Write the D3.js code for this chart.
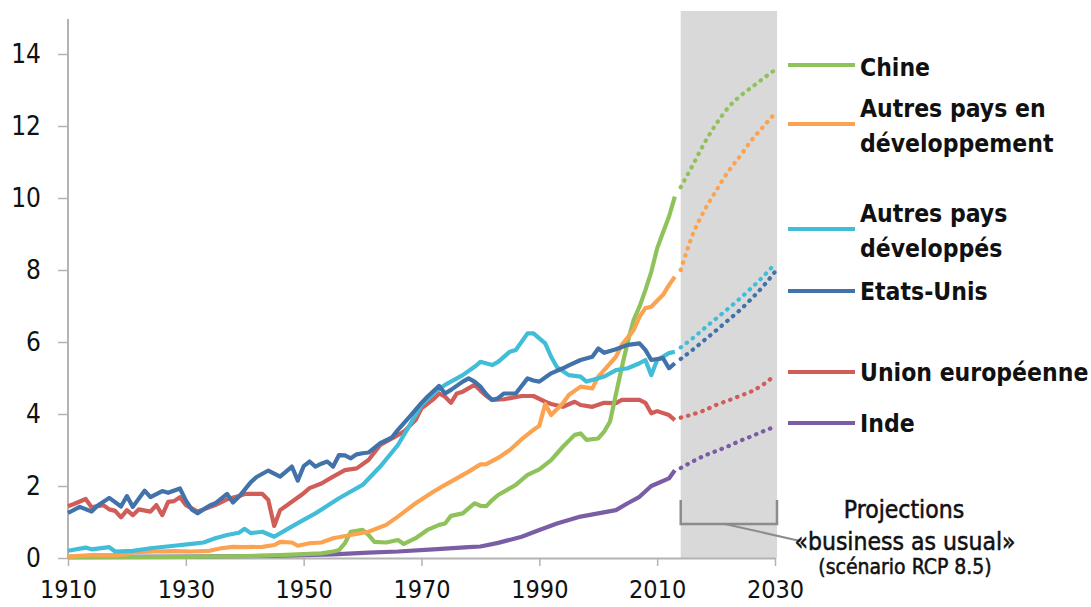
<!DOCTYPE html>
<html>
<head>
<meta charset="utf-8">
<script src="https://cdn.jsdelivr.net/npm/d3@7"></script>
<style>
  body { margin: 0; background: #fff; }
  svg { display: block; }
  .tick-label { font-family: "DejaVu Sans Condensed", "DejaVu Sans", sans-serif; font-size: 26px; fill: #111; }
  .legend-label { font-family: "DejaVu Sans Condensed", "DejaVu Sans", sans-serif; font-weight: bold; font-size: 24.5px; fill: #111; }
  .proj-label { font-family: "DejaVu Sans Condensed", "DejaVu Sans", sans-serif; font-size: 24.5px; fill: #111; stroke: #111; stroke-width: 0.5px; }
</style>
</head>
<body>
<svg id="chart"></svg>
<script>
// tonnes de CO2 par habitant, [année, valeur]
var chine = [[1910,0.02],[1930,0.03],[1940,0.05],[1946,0.08],[1950,0.11],[1953,0.13],[1955,0.18],[1956,0.22],[1957,0.41],[1958,0.73],[1960,0.78],[1961,0.64],[1962,0.45],[1964,0.43],[1966,0.5],[1967,0.39],[1969,0.55],[1971,0.78],[1973,0.92],[1974,0.96],[1975,1.17],[1977,1.24],[1979,1.52],[1980,1.45],[1981,1.44],[1982,1.61],[1983,1.75],[1986,2.03],[1988,2.31],[1990,2.46],[1992,2.72],[1994,3.09],[1996,3.42],[1997,3.46],[1998,3.28],[2000,3.32],[2001,3.51],[2002,3.79],[2003,4.55],[2004,5.3],[2005,6.0],[2006,6.61],[2007,6.98],[2008,7.44],[2009,7.95],[2010,8.6],[2011,9.05],[2012,9.48],[2013,10.04]];
var autresDev = [[1910,0.04],[1914,0.08],[1918,0.08],[1920,0.1],[1921,0.16],[1925,0.18],[1928,0.19],[1931,0.18],[1934,0.2],[1936,0.27],[1938,0.31],[1940,0.3],[1943,0.31],[1945,0.36],[1946,0.45],[1948,0.43],[1949,0.34],[1951,0.41],[1953,0.43],[1955,0.55],[1958,0.64],[1961,0.73],[1964,0.92],[1966,1.15],[1969,1.52],[1972,1.84],[1974,2.03],[1975,2.12],[1978,2.4],[1980,2.6],[1981,2.61],[1983,2.78],[1985,3.0],[1987,3.3],[1989,3.56],[1990,3.67],[1991,4.28],[1992,3.97],[1994,4.3],[1995,4.53],[1997,4.76],[1999,4.71],[2000,5.04],[2001,5.22],[2003,5.59],[2004,5.92],[2006,6.33],[2007,6.7],[2008,6.94],[2009,6.98],[2011,7.31],[2012,7.58],[2013,7.81]];
var autresDeveloppes = [[1910,0.2],[1913,0.29],[1914,0.24],[1917,0.3],[1918,0.18],[1921,0.2],[1924,0.27],[1928,0.34],[1931,0.39],[1933,0.43],[1935,0.55],[1937,0.64],[1939,0.7],[1940,0.81],[1941,0.69],[1943,0.73],[1945,0.59],[1947,0.78],[1949,0.97],[1952,1.24],[1956,1.66],[1960,2.03],[1963,2.54],[1966,3.14],[1968,3.69],[1970,4.25],[1972,4.57],[1974,4.81],[1977,5.08],[1979,5.31],[1980,5.45],[1982,5.36],[1983,5.45],[1985,5.73],[1986,5.78],[1988,6.24],[1989,6.24],[1991,5.96],[1992,5.59],[1993,5.3],[1995,5.08],[1997,5.04],[1998,4.9],[2000,4.99],[2001,5.04],[2003,5.22],[2005,5.27],[2007,5.41],[2008,5.5],[2009,5.08],[2010,5.5],[2012,5.69],[2013,5.73]];
var etatsUnis = [[1910,1.25],[1912,1.42],[1914,1.29],[1915,1.45],[1917,1.67],[1919,1.43],[1920,1.72],[1921,1.42],[1923,1.87],[1924,1.69],[1926,1.86],[1927,1.81],[1929,1.93],[1930,1.6],[1931,1.35],[1932,1.24],[1933,1.35],[1934,1.45],[1935,1.52],[1937,1.78],[1938,1.54],[1939,1.7],[1940,1.9],[1941,2.1],[1942,2.25],[1944,2.43],[1946,2.26],[1948,2.54],[1949,2.15],[1950,2.55],[1951,2.68],[1952,2.54],[1953,2.62],[1954,2.68],[1955,2.54],[1956,2.86],[1957,2.85],[1958,2.77],[1959,2.88],[1960,2.91],[1961,2.93],[1963,3.19],[1965,3.35],[1966,3.56],[1968,3.93],[1970,4.31],[1971,4.48],[1973,4.78],[1974,4.57],[1975,4.67],[1977,4.9],[1978,4.99],[1979,4.9],[1980,4.76],[1981,4.55],[1982,4.39],[1983,4.44],[1984,4.57],[1986,4.57],[1988,4.99],[1989,4.93],[1990,4.9],[1992,5.13],[1994,5.27],[1995,5.35],[1997,5.5],[1999,5.59],[2000,5.82],[2001,5.7],[2003,5.8],[2005,5.92],[2007,5.96],[2008,5.78],[2009,5.5],[2011,5.55],[2012,5.27],[2013,5.41]];
var unionEuropeenne = [[1910,1.44],[1911,1.5],[1913,1.64],[1914,1.41],[1916,1.47],[1917,1.35],[1918,1.31],[1919,1.13],[1920,1.33],[1921,1.19],[1922,1.35],[1924,1.29],[1925,1.47],[1926,1.19],[1927,1.56],[1928,1.58],[1929,1.69],[1930,1.47],[1932,1.29],[1933,1.35],[1935,1.47],[1937,1.63],[1939,1.72],[1940,1.78],[1943,1.78],[1944,1.61],[1945,0.89],[1946,1.33],[1948,1.56],[1950,1.8],[1951,1.94],[1953,2.07],[1955,2.26],[1957,2.44],[1959,2.49],[1961,2.72],[1963,3.14],[1965,3.32],[1967,3.51],[1969,3.83],[1970,4.16],[1972,4.41],[1973,4.57],[1974,4.48],[1975,4.31],[1976,4.57],[1977,4.62],[1979,4.81],[1980,4.65],[1981,4.5],[1982,4.39],[1984,4.41],[1987,4.5],[1989,4.5],[1991,4.34],[1992,4.28],[1994,4.2],[1996,4.34],[1997,4.25],[1999,4.2],[2001,4.31],[2003,4.3],[2004,4.39],[2007,4.39],[2008,4.31],[2009,4.02],[2010,4.08],[2012,3.97],[2013,3.83]];
var inde = [[1910,0.03],[1930,0.04],[1945,0.06],[1950,0.08],[1955,0.1],[1961,0.15],[1966,0.18],[1972,0.24],[1978,0.3],[1980,0.32],[1983,0.42],[1987,0.59],[1990,0.78],[1993,0.96],[1997,1.15],[2000,1.24],[2003,1.33],[2005,1.52],[2007,1.7],[2009,2.0],[2010,2.07],[2012,2.21],[2013,2.44]];

// projections « business as usual » (RCP 8.5)
var projYears = [2014, 2016, 2018, 2020, 2022, 2024, 2026, 2028, 2030];
var projChine = [10.3, 10.9, 11.52, 12.05, 12.5, 12.82, 13.07, 13.32, 13.56];
var projAutresDev = [8.0, 8.97, 9.65, 10.2, 10.72, 11.15, 11.6, 11.98, 12.35];
var projAutresDeveloppes = [5.85, 6.1, 6.38, 6.65, 6.92, 7.2, 7.5, 7.82, 8.17];
var projEtatsUnis = [5.53, 5.78, 6.05, 6.32, 6.6, 6.88, 7.2, 7.55, 7.95];
var projUnionEuropeenne = [3.9, 3.99, 4.1, 4.25, 4.37, 4.5, 4.63, 4.82, 5.08];
var projInde = [2.5, 2.68, 2.84, 2.97, 3.1, 3.25, 3.38, 3.52, 3.65];

var xTicks = [1910, 1930, 1950, 1970, 1990, 2010, 2030];
var yTicks = [0, 2, 4, 6, 8, 10, 12, 14];
var projStart = 2014, projEnd = 2030;

var width = 1091, height = 607;
var svg = d3.select('#chart').attr('width', width).attr('height', height);

var x = d3.scaleLinear().domain([1910, 2030]).range([68, 775]);
var y = d3.scaleLinear().domain([0, 15]).range([558, 18]);

// zone grisée des projections
svg.append('rect')
    .attr('x', x(projStart))
    .attr('y', 11)
    .attr('width', x(projEnd) - x(projStart) + 2)
    .attr('height', y(0) - 11)
    .attr('fill', '#d9d9d9');

// axes
var yAxis = svg.append('g')
    .attr('transform', 'translate(' + x(1910) + ',0)')
    .call(d3.axisLeft(y).tickValues(yTicks).tickSize(10).tickPadding(17).tickSizeOuter(0));
var xAxis = svg.append('g')
    .attr('transform', 'translate(0,' + y(0) + ')')
    .call(d3.axisBottom(x).tickValues(xTicks).tickSize(8).tickPadding(14).tickSizeOuter(0).tickFormat(d3.format('d')));
[yAxis, xAxis].forEach(function(ax) {
    ax.select('.domain').attr('stroke', '#b3b3b3').attr('stroke-width', 2);
    ax.selectAll('.tick line').attr('stroke', '#b3b3b3').attr('stroke-width', 1.5);
    ax.selectAll('.tick text').attr('class', 'tick-label').attr('fill', null);
});
xAxis.selectAll('.tick text').style('font-size', '25px');
yAxis.select('.domain').attr('d', 'M0,' + y(0) + 'V19');

var series = [
    {name: ['Chine'], color: '#8fc25a', hist: chine, proj: projChine, ly: 65, ty: [67]},
    {name: ['Autres pays en', 'développement'], color: '#fba351', hist: autresDev, proj: projAutresDev, ly: 124, ty: [108, 143]},
    {name: ['Autres pays', 'développés'], color: '#42bdd8', hist: autresDeveloppes, proj: projAutresDeveloppes, ly: 229, ty: [213, 248]},
    {name: ['Etats-Unis'], color: '#4272aa', hist: etatsUnis, proj: projEtatsUnis, ly: 291, ty: [291]},
    {name: ['Union européenne'], color: '#d15d58', hist: unionEuropeenne, proj: projUnionEuropeenne, ly: 372, ty: [372]},
    {name: ['Inde'], color: '#7b5da6', hist: inde, proj: projInde, ly: 423, ty: [423]}
];

var line = d3.line()
    .x(function(d) { return x(d[0]); })
    .y(function(d) { return y(d[1]); })
    .curve(d3.curveLinear);
var projLine = d3.line()
    .x(function(d) { return x(d[0]); })
    .y(function(d) { return y(d[1]); })
    .curve(d3.curveMonotoneX);

// draw bottom-most first so China ends on top
var order = [5, 4, 0, 1, 2, 3];
var linesG = svg.append('g');
order.forEach(function(i) {
    var s = series[i];
    linesG.append('path')
        .attr('d', line(s.hist))
        .attr('fill', 'none')
        .attr('stroke', s.color)
        .attr('stroke-width', 4.2)
        .attr('stroke-linejoin', 'round');
    linesG.append('path')
        .attr('d', projLine(projYears.map(function(yr, k) { return [yr, s.proj[k]]; })))
        .attr('fill', 'none')
        .attr('stroke', s.color)
        .attr('stroke-width', 4.2)
        .attr('stroke-linecap', 'round')
        .attr('stroke-dasharray', '0.5,7');
});

// légende
var legend = svg.append('g');
series.forEach(function(s) {
    legend.append('line')
        .attr('x1', 788).attr('x2', 855)
        .attr('y1', s.ly).attr('y2', s.ly)
        .attr('stroke', s.color)
        .attr('stroke-width', 4);
    s.name.forEach(function(t, k) {
        legend.append('text')
            .attr('class', 'legend-label')
            .attr('x', 860)
            .attr('y', s.ty[k])
            .attr('dy', '0.36em')
            .text(t);
    });
});

// accolade des projections
var by = 524;
svg.append('path')
    .attr('d', 'M' + x(projStart) + ',' + (by - 24) + 'V' + by + 'H' + (x(projEnd) + 2) + 'V' + (by - 24))
    .attr('fill', 'none')
    .attr('stroke', '#8c8c8c')
    .attr('stroke-width', 2.5);
svg.append('line')
    .attr('x1', x(2021.5)).attr('y1', by)
    .attr('x2', 800).attr('y2', 541)
    .attr('stroke', '#8c8c8c')
    .attr('stroke-width', 2);

var proj = svg.append('g').attr('text-anchor', 'middle');
proj.append('text').attr('class', 'proj-label').attr('x', 904).attr('y', 518).text('Projections');
proj.append('text').attr('class', 'proj-label').attr('x', 905).attr('y', 550).text('«business as usual»');
proj.append('text').attr('class', 'proj-label').attr('x', 905).attr('y', 574).style('font-size', '21px').text('(scénario RCP 8.5)');
</script>
</body>
</html>
